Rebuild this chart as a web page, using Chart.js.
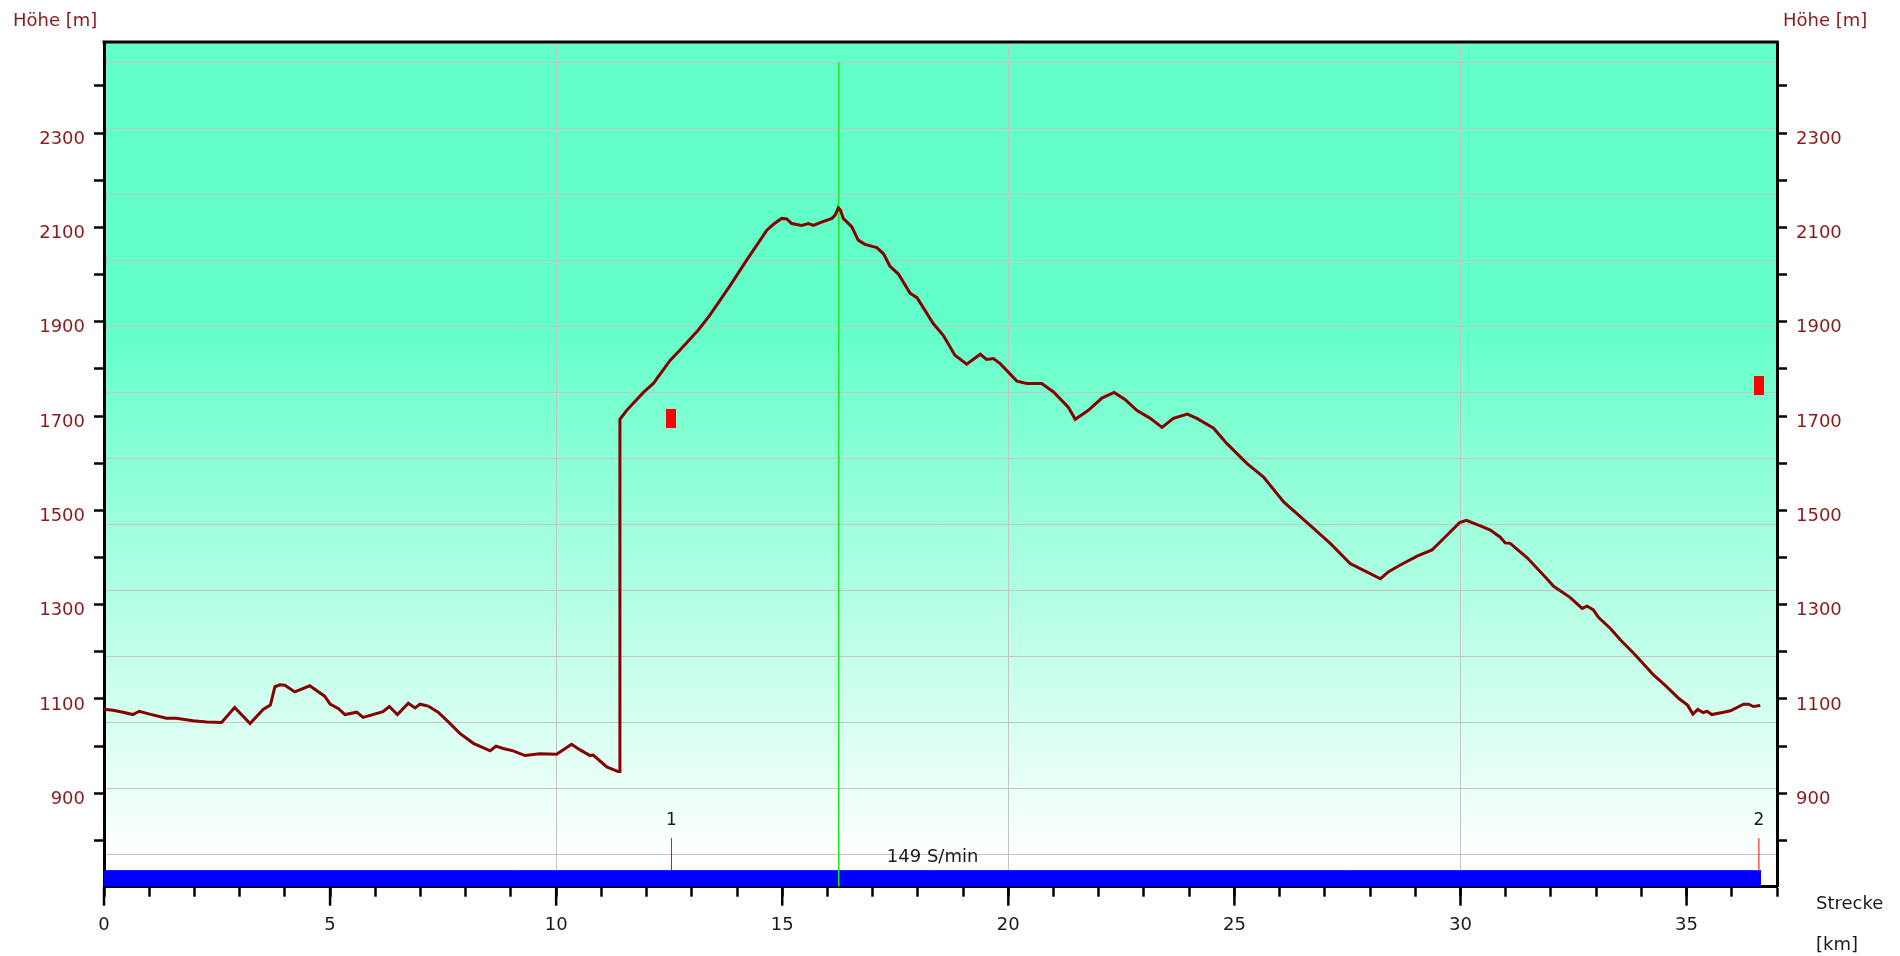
<!DOCTYPE html>
<html>
<head>
<meta charset="utf-8">
<title>Höhenprofil</title>
<script src="https://cdn.jsdelivr.net/npm/chart.js@4.4.0/dist/chart.umd.min.js"></script>
<style>
  html, body { margin: 0; padding: 0; background: #fff; }
  #wrap { width: 1900px; height: 956px; }
</style>
</head>
<body>
<div id="wrap"><canvas id="profil"></canvas></div>
<script>
// Strecke [km] und Hoehe [m]
var strecke = [0.0, 0.2, 0.42, 0.64, 0.78, 1.01, 1.38, 1.6, 1.97, 2.27, 2.6, 2.89, 3.23, 3.52, 3.68, 3.78, 3.89, 4.0,
    4.22, 4.55, 4.88, 5.0, 5.18, 5.33, 5.59, 5.73, 6.17, 6.31, 6.49, 6.73, 6.88, 6.99, 7.17, 7.39, 7.61, 7.87,
    8.17, 8.54, 8.67, 8.83, 9.05, 9.31, 9.64, 10.01, 10.34, 10.53, 10.75, 10.82, 11.12, 11.37, 11.41, 11.41,
    11.56, 11.93, 12.15, 12.52, 12.74, 13.14, 13.4, 13.85, 14.21, 14.66, 14.8, 14.99, 15.1, 15.21, 15.43, 15.58,
    15.69, 15.84, 16.1, 16.17, 16.24, 16.29, 16.35, 16.54, 16.68, 16.83, 17.09, 17.24, 17.38, 17.57, 17.83, 17.98,
    18.34, 18.56, 18.82, 19.08, 19.38, 19.52, 19.67, 19.82, 20.19, 20.41, 20.74, 21.0, 21.33, 21.48, 21.77, 22.07,
    22.34, 22.58, 22.84, 23.14, 23.4, 23.65, 23.96, 24.17, 24.54, 24.83, 25.28, 25.64, 26.09, 26.75, 27.12, 27.56,
    27.75, 28.23, 28.41, 28.67, 29.04, 29.37, 29.74, 29.98, 30.13, 30.44, 30.66, 30.88, 30.99, 31.1, 31.47, 31.88,
    32.06, 32.43, 32.69, 32.8, 32.94, 33.05, 33.31, 33.54, 33.83, 34.27, 34.57, 34.83, 35.02, 35.14, 35.25, 35.37,
    35.45, 35.56, 35.82, 35.97, 36.26, 36.37, 36.48, 36.63];
var hoehe = [1078, 1076, 1072, 1067, 1074, 1068, 1059, 1059, 1054, 1051, 1050, 1082, 1048, 1078, 1087, 1126, 1130, 1129,
    1115, 1128, 1106, 1089, 1080, 1067, 1072, 1061, 1073, 1084, 1067, 1091, 1081, 1089, 1085, 1072, 1052, 1027,
    1006, 990, 1000, 995, 990, 980, 984, 983, 1004, 992, 980, 981, 956, 946, 946, 1693,
    1712, 1750, 1769, 1818, 1840, 1882, 1914, 1977, 2030, 2094, 2106, 2119, 2118, 2108, 2104, 2108,
    2104, 2110, 2119, 2126, 2141, 2136, 2119, 2101, 2073, 2064, 2057, 2044, 2018, 2001, 1960, 1951,
    1896, 1871, 1829, 1810, 1831, 1820, 1822, 1811, 1774, 1769, 1769, 1751, 1718, 1693, 1712, 1738,
    1750, 1735, 1712, 1695, 1676, 1695, 1704, 1695, 1674, 1642, 1599, 1571, 1518, 1462, 1430, 1387,
    1378, 1355, 1370, 1384, 1403, 1416, 1451, 1474, 1479, 1467, 1458, 1443, 1431, 1430, 1400, 1358,
    1339, 1315, 1292, 1297, 1289, 1273, 1250, 1225, 1197, 1151, 1125, 1101, 1087, 1068, 1078, 1071,
    1074, 1067, 1072, 1075, 1089, 1089, 1084, 1086];

// Wegpunkte
var marker = ['1', '2'];
var markerKm = [12.55, 36.6];
var markerHoehe = [1695, 1764];

var hoeheTicks = [800, 900, 1000, 1100, 1200, 1300, 1400, 1500, 1600, 1700, 1800, 1900, 2000, 2100, 2200, 2300, 2400];
var gitterHoehe = [770, 910, 1050, 1190, 1330, 1470, 1610, 1750, 1890, 2030, 2170, 2310, 2450];
var kadenz = '149 S/min';
var cursorKm = 16.25;
var streckeEnde = 36.65;

var yMin = 702, yMax = 2493;
var bandHoehe = 736;

Chart.defaults.font.family = '"DejaVu Sans", sans-serif';
Chart.defaults.font.size = 18;

var rot = document.createElement('canvas');
rot.width = 10; rot.height = 19;
var rc = rot.getContext('2d');
rc.fillStyle = '#ff0000';
rc.fillRect(0, 0, 10, 19);

var extras = {
    id: 'extras',
    beforeDraw: function(chart){
        var a = chart.chartArea, ctx = chart.ctx;
        var g = ctx.createLinearGradient(0, a.top, 0, a.bottom);
        g.addColorStop(0, '#64ffc8');
        g.addColorStop(0.34, '#64ffc8');
        g.addColorStop(0.97, '#ffffff');
        g.addColorStop(1, '#ffffff');
        ctx.save();
        ctx.fillStyle = g;
        ctx.fillRect(a.left, a.top, a.right - a.left, a.bottom - a.top);
        ctx.restore();
    },
    afterDraw: function(chart){
        var a = chart.chartArea, ctx = chart.ctx;
        var x = chart.scales.x, y = chart.scales.y;
        ctx.save();
        ctx.strokeStyle = '#000';
        ctx.lineWidth = 3;
        ctx.beginPath();
        ctx.moveTo(a.left - 1.5, a.top);
        ctx.lineTo(a.right + 1.5, a.top);
        ctx.stroke();
        // lange Striche alle 5 km
        ctx.lineWidth = 2.5;
        for (var v = 0; v <= 35; v += 5){
            var px = x.getPixelForValue(v);
            ctx.beginPath();
            ctx.moveTo(px, a.bottom);
            ctx.lineTo(px, a.bottom + 19);
            ctx.stroke();
        }
        ctx.font = '18px "DejaVu Sans"';
        ctx.textBaseline = 'middle';
        ctx.textAlign = 'left';
        ctx.fillStyle = '#8b1a1a';
        ctx.fillText('Höhe [m]', 13, 21);
        ctx.fillText('Höhe [m]', 1783, 21);
        ctx.fillStyle = '#1a1a1a';
        ctx.fillText('Strecke', 1816, 904);
        ctx.fillText('[km]', 1816, 945);
        ctx.textAlign = 'center';
        ctx.fillText(kadenz, x.getPixelForValue(streckeEnde / 2), y.getPixelForValue(764));
        ctx.font = '17px "DejaVu Sans"';
        marker.forEach(function(m, i){
            ctx.fillText(m, x.getPixelForValue(markerKm[i]), y.getPixelForValue(843));
        });
        ctx.restore();
    }
};

var profil = strecke.map(function(k, i){ return {x: k, y: hoehe[i]}; });
var punkte = markerKm.map(function(k, i){ return {x: k, y: markerHoehe[i]}; });
var stiele = [];
markerKm.forEach(function(k){
    stiele.push({x: k, y: bandHoehe}, {x: k, y: 805}, {x: k, y: null});
});

function hoeheAchse(pos, breite){
    return {
        type: 'linear',
        position: pos,
        min: yMin,
        max: yMax,
        afterBuildTicks: function(ax){ ax.ticks = hoeheTicks.map(function(v){ return {value: v}; }); },
        afterFit: function(ax){ ax.width = breite; },
        ticks: {
            color: '#8b1a1a',
            padding: 9,
            labelOffset: 6,
            callback: function(v){ return v % 200 === 100 ? String(v) : ''; }
        },
        grid: { drawOnChartArea: false, tickLength: 10, tickColor: '#000', tickWidth: 2.5 },
        border: { display: true, color: '#000', width: 3 }
    };
}

var ctx = document.getElementById('profil');
var chart = new Chart(ctx, {
    type: 'line',
    data: {
        datasets: [
            {
                data: profil,
                borderColor: '#850000',
                borderWidth: 3,
                pointRadius: 0,
                tension: 0,
                order: 1
            },
            {
                data: punkte,
                showLine: false,
                pointStyle: rot,
                pointRadius: 5,
                order: 2
            },
            {
                data: [{x: cursorKm, y: 2450}, {x: cursorKm, y: yMin}],
                borderColor: '#1ee61e',
                borderWidth: 1.5,
                pointRadius: 0,
                order: 3
            },
            {
                data: stiele,
                borderColor: '#ff0000',
                borderWidth: 1,
                pointRadius: 0,
                order: 4
            },
            {
                data: [{x: 0, y: bandHoehe}, {x: streckeEnde, y: bandHoehe}],
                borderColor: '#0000ff',
                borderWidth: 1,
                backgroundColor: '#0000ff',
                fill: 'start',
                pointRadius: 0,
                order: 5
            }
        ]
    },
    options: {
        responsive: true,
        maintainAspectRatio: false,
        devicePixelRatio: 1,
        animation: false,
        layout: { padding: { top: 42, left: 0, right: 0, bottom: 0 } },
        plugins: { legend: { display: false }, tooltip: { enabled: false } },
        scales: {
            x: {
                type: 'linear',
                position: 'bottom',
                min: 0,
                max: 37,
                afterFit: function(ax){ ax.height = 69.3; },
                ticks: {
                    stepSize: 1,
                    autoSkip: false,
                    maxRotation: 0,
                    color: '#1a1a1a',
                    padding: 18,
                    callback: function(v){ return v % 5 === 0 ? String(v) : ''; }
                },
                grid: {
                    color: function(c){
                        var v = c.tick && c.tick.value;
                        return (v === 10 || v === 20 || v === 30) ? '#c4c4c4' : 'rgba(0,0,0,0)';
                    },
                    tickColor: '#000',
                    tickLength: 10,
                    tickWidth: 2.5
                },
                border: { display: true, color: '#000', width: 3 }
            },
            y: hoeheAchse('left', 104),
            y2: hoeheAchse('right', 123),
            yg: {
                type: 'linear',
                position: 'left',
                min: yMin,
                max: yMax,
                afterBuildTicks: function(ax){ ax.ticks = gitterHoehe.map(function(v){ return {value: v}; }); },
                afterFit: function(ax){ ax.width = 0; },
                ticks: { display: false },
                grid: { color: '#c4c4c4', lineWidth: 1, drawTicks: false },
                border: { display: false }
            }
        }
    },
    plugins: [extras]
});
</script>
</body>
</html>
